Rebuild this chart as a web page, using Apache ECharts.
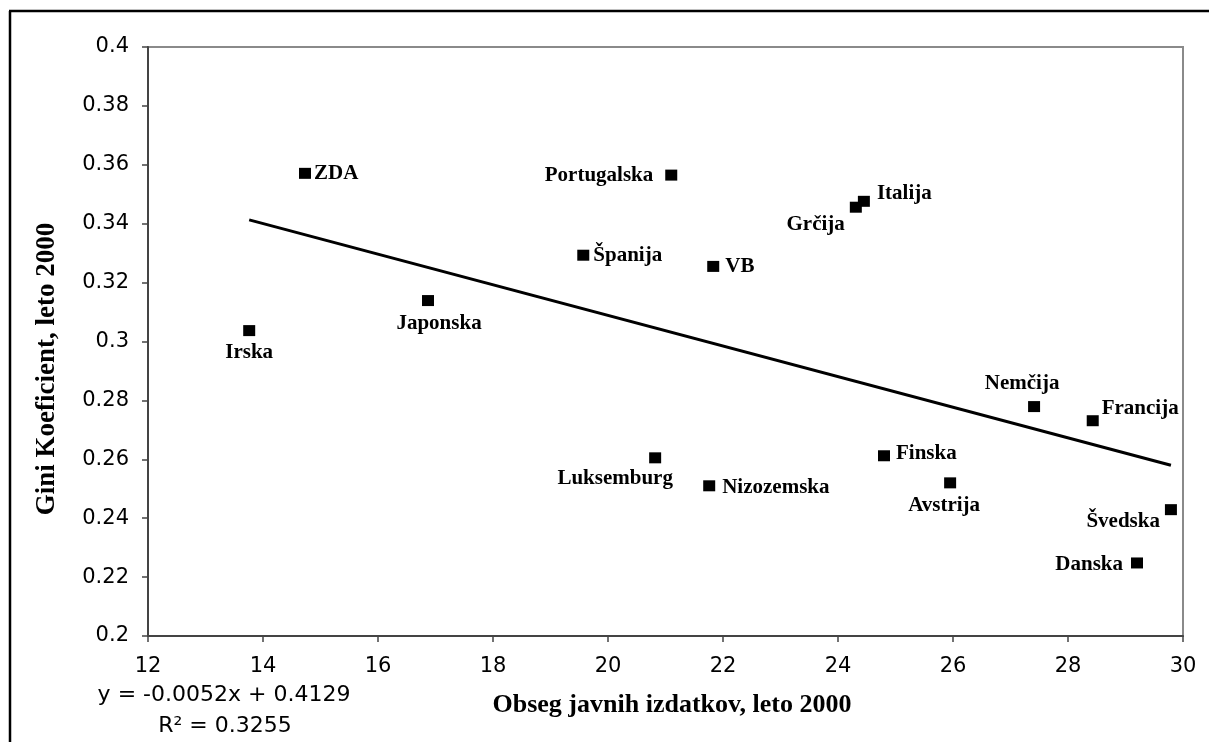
<!DOCTYPE html>
<html>
<head>
<meta charset="utf-8">
<title>Gini vs javni izdatki</title>
<script src="https://cdn.jsdelivr.net/npm/echarts@6/dist/echarts.min.js"></script>
<style>
  html, body { margin: 0; padding: 0; background: #fff; }
  #chart { width: 1209px; height: 742px; }
</style>
</head>
<body>
<div id="chart"></div>
<script>
// values
const countries = ['ZDA', 'Irska', 'Japonska', 'Španija', 'Portugalska', 'VB', 'Grčija', 'Italija',
  'Luksemburg', 'Nizozemska', 'Finska', 'Avstrija', 'Nemčija', 'Francija', 'Švedska', 'Danska']
const spending = [14.73, 13.76, 16.87, 19.57, 21.10, 21.83, 24.31, 24.45,
  20.82, 21.76, 24.80, 25.95, 27.41, 28.43, 29.79, 29.20]
const gini = [0.3571, 0.3037, 0.3139, 0.3293, 0.3565, 0.3255, 0.3456, 0.3476,
  0.2605, 0.2510, 0.2612, 0.2520, 0.2779, 0.2731, 0.2429, 0.2248]
const trendX = [13.76, 29.79]
const trendY = [0.3413, 0.2580]
const xTicks = { min: 12, max: 30, interval: 2 }
const yTicks = { min: 0.2, max: 0.4, interval: 0.02 }

// where each country name sits next to its square
const labelPlace = {
  'ZDA': { position: 'right', distance: 3 },
  'Irska': { position: 'bottom', distance: 6 },
  'Japonska': { position: 'bottom', distance: 7, offset: [11, 0] },
  'Španija': { position: 'right', distance: 4 },
  'Portugalska': { position: 'left', distance: 12 },
  'VB': { position: 'right', distance: 6 },
  'Grčija': { position: 'left', distance: 5, offset: [0, 17] },
  'Italija': { position: 'right', distance: 7, offset: [0, -8] },
  'Luksemburg': { position: 'bottom', distance: 5, offset: [-40, 0] },
  'Nizozemska': { position: 'right', distance: 7, offset: [0, 2] },
  'Finska': { position: 'right', distance: 6, offset: [0, -2] },
  'Avstrija': { position: 'bottom', distance: 7, offset: [-6, 0] },
  'Nemčija': { position: 'top', distance: 7, offset: [-12, 0] },
  'Francija': { position: 'right', distance: 3, offset: [0, -12] },
  'Švedska': { position: 'left', distance: 5, offset: [0, 12] },
  'Danska': { position: 'left', distance: 8, offset: [0, 2] },
}

const serif = '"Liberation Serif", "Times New Roman", serif'
const sans = '"DejaVu Sans", Arial, sans-serif'

const points = countries.map((c, i) => ({
  name: c,
  value: [spending[i], gini[i]],
  label: labelPlace[c],
}))

const chart = echarts.init(document.getElementById('chart'))

chart.setOption({
  animation: false,
  backgroundColor: '#fff',
  grid: {
    left: 148,
    top: 47,
    right: 26,
    bottom: 106,
    show: true,
    borderColor: '#8a8a8a',
    borderWidth: 2,
  },
  xAxis: {
    type: 'value',
    min: xTicks.min,
    max: xTicks.max,
    interval: xTicks.interval,
    name: 'Obseg javnih izdatkov, leto 2000',
    nameLocation: 'middle',
    nameGap: 56,
    nameTextStyle: { fontFamily: serif, fontWeight: 'bold', fontSize: 26, color: '#000', padding: [0, 0, 0, 13] },
    axisLine: { show: true, onZero: false, lineStyle: { color: '#444', width: 2 } },
    axisTick: { show: true, inside: false, length: 6, lineStyle: { color: '#444', width: 1.5 } },
    axisLabel: { fontFamily: sans, fontSize: 21, color: '#000', margin: 20 },
    splitLine: { show: false },
  },
  yAxis: {
    type: 'value',
    min: yTicks.min,
    max: yTicks.max,
    interval: yTicks.interval,
    axisLine: { show: true, onZero: false, lineStyle: { color: '#444', width: 2 } },
    axisTick: { show: true, inside: false, length: 6, lineStyle: { color: '#444', width: 1.5 } },
    axisLabel: {
      fontFamily: sans, fontSize: 21, color: '#000', margin: 19,
      formatter: v => String(+v.toFixed(2)),
    },
    splitLine: { show: false },
  },
  series: [
    {
      type: 'line',
      data: trendX.map((x, i) => [x, trendY[i]]),
      showSymbol: false,
      symbol: 'none',
      lineStyle: { color: '#000', width: 3 },
      silent: true,
      z: 2,
    },
    {
      type: 'scatter',
      data: points,
      symbol: 'rect',
      symbolSize: [12, 11],
      itemStyle: { color: '#000', opacity: 1 },
      label: {
        show: true,
        formatter: p => p.name,
        fontFamily: serif,
        fontWeight: 'bold',
        fontSize: 21,
        color: '#000',
      },
      z: 3,
    },
  ],
  graphic: [
    // frame of the figure, only top and left edges are visible
    { type: 'line', shape: { x1: 9, y1: 11, x2: 1209, y2: 11 }, style: { stroke: '#000', lineWidth: 2.5 } },
    { type: 'line', shape: { x1: 10, y1: 11, x2: 10, y2: 742 }, style: { stroke: '#000', lineWidth: 2.5 } },
    {
      type: 'text',
      x: 47,
      y: 369,
      rotation: Math.PI / 2,
      style: {
        text: 'Gini Koeficient, leto 2000',
        font: 'bold 27px ' + serif,
        fill: '#000',
        textAlign: 'center',
        textVerticalAlign: 'middle',
      },
    },
    {
      type: 'text',
      x: 224,
      y: 695,
      style: {
        text: 'y = -0.0052x + 0.4129',
        font: '22px ' + sans,
        fill: '#000',
        textAlign: 'center',
        textVerticalAlign: 'middle',
      },
    },
    {
      type: 'text',
      x: 225,
      y: 726,
      style: {
        text: 'R² = 0.3255',
        font: '22px ' + sans,
        fill: '#000',
        textAlign: 'center',
        textVerticalAlign: 'middle',
      },
    },
  ],
})
</script>
</body>
</html>
